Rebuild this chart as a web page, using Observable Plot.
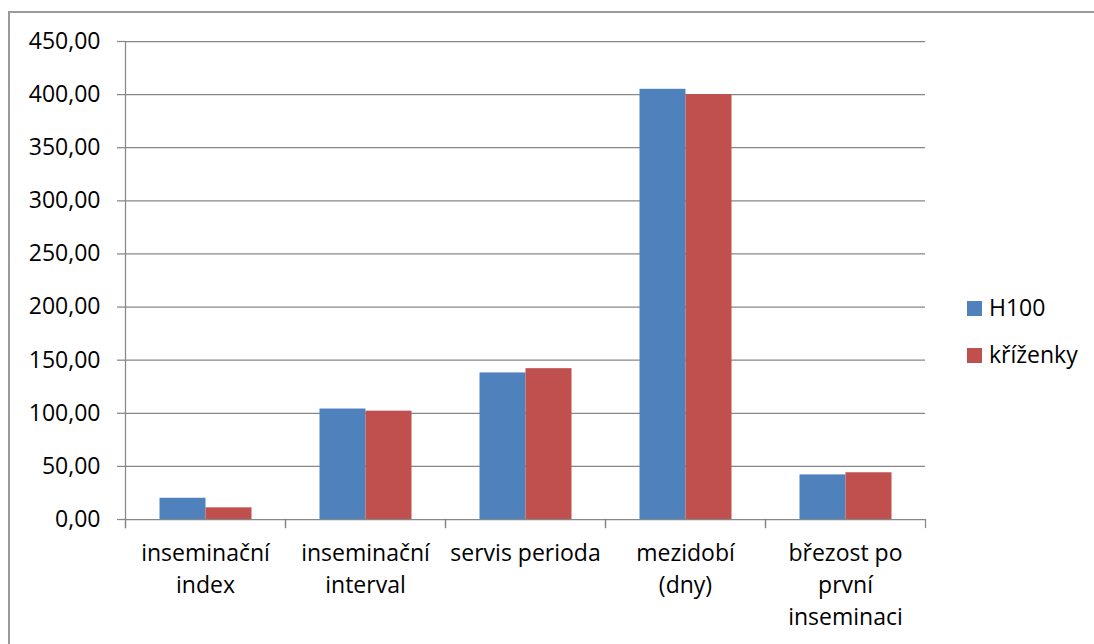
<!DOCTYPE html>
<html>
<head>
<meta charset="utf-8">
<script src="https://cdn.jsdelivr.net/npm/d3@7"></script>
<script src="https://cdn.jsdelivr.net/npm/@observablehq/plot@0.6"></script>
<style>
  html, body { margin: 0; padding: 0; background: #fff; overflow: hidden; }
  #chart { position: relative; width: 1094px; height: 644px; font-family: "Open Sans", sans-serif; }
  #border { position: absolute; left: 8px; top: 11px; width: 1300px; height: 900px;
            border-top: 2px solid #9a9a9a; border-left: 2px solid #9a9a9a; }
  #chart svg { position: absolute; left: 0; top: 0; }
  .sw { position: absolute; width: 15px; height: 15px; }
  .lb { position: absolute; font-size: 23px; line-height: 23px; color: #000; white-space: nowrap; }
</style>
</head>
<body>
<div id="chart"><div id="border"></div></div>
<script>
// Categories, their wrapped axis labels, and the two series
const categories = [
  "inseminační index",
  "inseminační interval",
  "servis perioda",
  "mezidobí (dny)",
  "březost po první inseminaci"
];
const tickLabels = [
  "inseminační\nindex",
  "inseminační\ninterval",
  "servis perioda",
  "mezidobí\n(dny)",
  "březost po\nprvní\ninseminaci"
];
const series = ["H100", "kříženky"];
const h100 = [20, 104, 138, 405, 42];
const krizenky = [11, 102, 142, 400, 44];
const yTicks = [0, 50, 100, 150, 200, 250, 300, 350, 400, 450];
const colors = ["#4F81BD", "#C0504D"];

// Long-format rows for the grouped bars
const values = [h100, krizenky];
const rows = categories.flatMap((c, i) =>
  series.map((s, j) => ({category: c, series: s, value: values[j][i]}))
);

const W = 1094, H = 644;
const mt = 41, mb = 125, ml = 124.5, mr = 169.5;
const innerH = H - mt - mb;
const lineColor = "#878787";
const fs = 23;
const fmt = d => d.toFixed(2).replace(".", ",");

const chart = Plot.plot({
  width: W,
  height: H,
  marginTop: mt,
  marginBottom: mb,
  marginLeft: ml,
  marginRight: mr,
  style: {fontFamily: '"Open Sans", sans-serif', fontSize: fs + "px", color: "#000", background: "transparent"},
  fx: {domain: categories, padding: 0, axis: null},
  x: {domain: series, paddingInner: 0, paddingOuter: 0.739, axis: null},
  y: {domain: [0, 450]},
  color: {domain: series, range: colors},
  marks: [
    // horizontal gridlines (0 doubles as the category axis line)
    Plot.ruleY(yTicks, {stroke: lineColor, strokeWidth: 1.25}),
    Plot.barY(rows, {fx: "category", x: "series", y: "value", fill: "series"}),
    // value axis line, running slightly below zero
    Plot.frame({anchor: "left", facetAnchor: "left", insetBottom: -8, stroke: lineColor, strokeWidth: 1.25}),
    // category separator ticks below the axis
    Plot.frame({anchor: "left", insetTop: innerH, insetBottom: -8, stroke: lineColor, strokeWidth: 1.25}),
    Plot.frame({anchor: "right", insetTop: innerH, insetBottom: -8, stroke: lineColor, strokeWidth: 1.25}),
    Plot.axisY(yTicks, {
      anchor: "left",
      label: null,
      tickSize: 8,
      tickPadding: 17,
      tickFormat: fmt,
      stroke: lineColor,
      strokeWidth: 1.25,
      fill: "#000",
      fontSize: fs
    }),
    Plot.text(categories, {
      fx: d => d,
      text: (d, i) => tickLabels[i],
      frameAnchor: "bottom",
      lineAnchor: "top",
      dy: 19,
      lineHeight: 1.39,
      fontSize: fs,
      fill: "#000"
    })
  ]
});

const root = document.getElementById("chart");
root.appendChild(chart);

// Legend on the right
series.forEach((s, i) => {
  const top = 301 + i * 47;
  const sw = document.createElement("div");
  sw.className = "sw";
  sw.style.left = "967px";
  sw.style.top = top + "px";
  sw.style.background = colors[i];
  root.appendChild(sw);
  const lb = document.createElement("div");
  lb.className = "lb";
  lb.style.left = "989px";
  lb.style.top = (top - 5.5) + "px";
  lb.textContent = s;
  root.appendChild(lb);
});
</script>
</body>
</html>
